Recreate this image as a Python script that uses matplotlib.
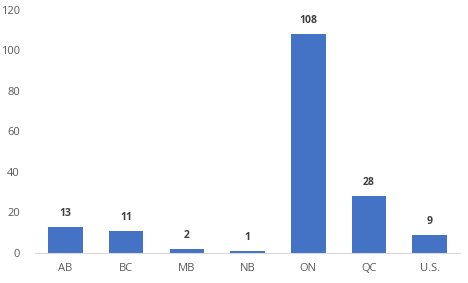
import matplotlib
matplotlib.use("Agg")
import matplotlib.pyplot as plt

regions = ["AB", "BC", "MB", "NB", "ON", "QC", "U.S."]
counts = [13, 11, 2, 1, 108, 28, 9]
yticks = [0, 20, 40, 60, 80, 100, 120]

plt.rcParams['font.family'] = ['Open Sans', 'DejaVu Sans']

fig = plt.figure(figsize=(4.68, 2.83), dpi=100)
ax = fig.add_axes([0.075, 0.106, 0.908, 0.859])

x = range(len(regions))
bars = ax.bar(x, counts, width=0.57, color='#4472C4')
for b, v in zip(bars, counts):
    ax.text(b.get_x() + b.get_width() / 2, v + 4, str(v), ha='center', va='bottom',
            fontsize=7.5, fontweight='bold', color='#404040')

ax.set_xlim(-0.5, len(regions) - 0.5)
ax.set_ylim(0, 120)
ax.set_yticks(yticks)
ax.set_xticks(list(x))
ax.set_xticklabels(regions)
ax.tick_params(axis='both', length=0, labelsize=8, colors='#595959')
ax.tick_params(axis='y', pad=11)
ax.tick_params(axis='x', pad=7)
for s in ['top', 'right', 'left']:
    ax.spines[s].set_visible(False)
ax.spines['bottom'].set_color('#D9D9D9')

fig.savefig('out.png', dpi=100)
